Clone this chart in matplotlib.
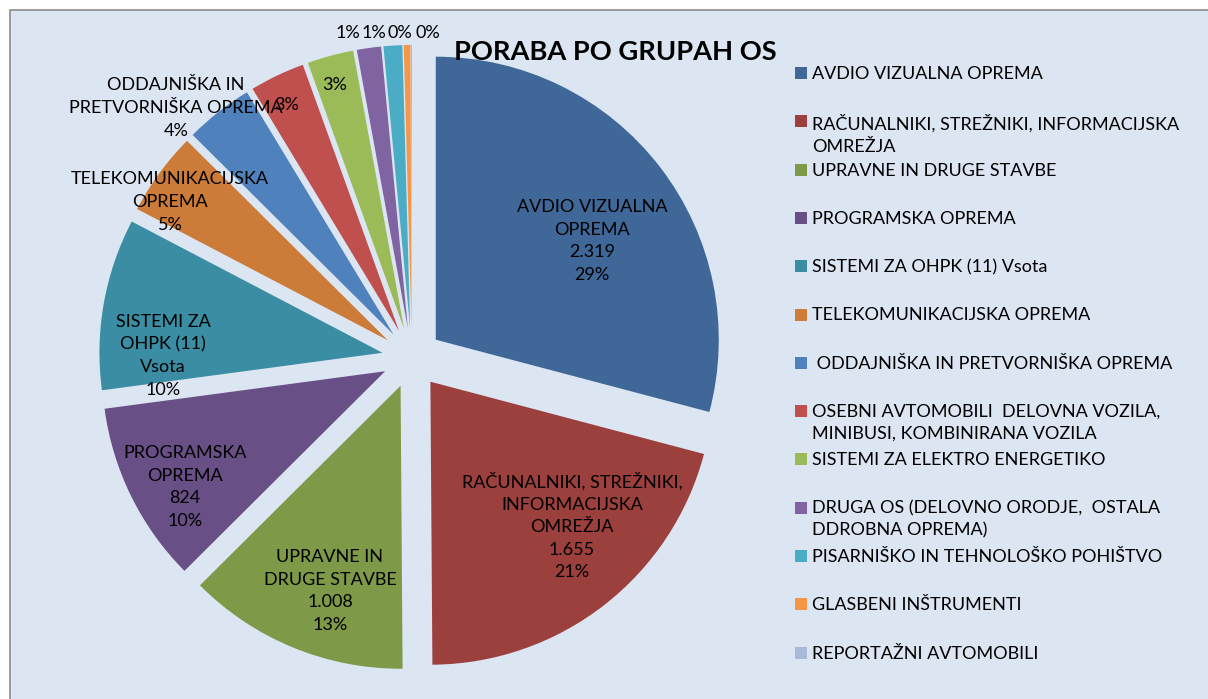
import matplotlib.pyplot as plt
from matplotlib.patches import Rectangle

plt.rcParams['font.family'] = ['Lato', 'DejaVu Sans']

# data (order = clockwise from 12 o'clock)
names = ["AVDIO VIZUALNA OPREMA",
         "RAČUNALNIKI, STREŽNIKI, INFORMACIJSKA\nOMREŽJA",
         "UPRAVNE IN DRUGE STAVBE",
         "PROGRAMSKA OPREMA",
         "SISTEMI ZA OHPK (11) Vsota",
         "TELEKOMUNIKACIJSKA OPREMA",
         " ODDAJNIŠKA IN PRETVORNIŠKA OPREMA",
         "OSEBNI AVTOMOBILI  DELOVNA VOZILA,\nMINIBUSI, KOMBINIRANA VOZILA",
         "SISTEMI ZA ELEKTRO ENERGETIKO",
         "DRUGA OS (DELOVNO ORODJE,  OSTALA\nDDROBNA OPREMA)",
         "PISARNIŠKO IN TEHNOLOŠKO POHIŠTVO",
         "GLASBENI INŠTRUMENTI",
         "REPORTAŽNI AVTOMOBILI"]
values = [2319, 1655, 1008, 824, 780, 380, 310, 250, 210, 110, 85, 30, 5]
label_names = ["AVDIO VIZUALNA\nOPREMA",
               "RAČUNALNIKI, STREŽNIKI,\nINFORMACIJSKA\nOMREŽJA",
               "UPRAVNE IN\nDRUGE STAVBE",
               "PROGRAMSKA\nOPREMA",
               "SISTEMI ZA\nOHPK (11)\nVsota",
               "TELEKOMUNIKACIJSKA\nOPREMA",
               "ODDAJNIŠKA IN\nPRETVORNIŠKA OPREMA",
               "", "", "", "", "", ""]
show_value = [True, True, True, True, False, False, False,
              False, False, False, False, False, False]
colors = ["#3F6898", "#9C403D", "#7E9A48", "#684F86", "#3B8DA3", "#CC7B38",
          "#4F81BD", "#C0504D", "#9BBB59", "#8064A2", "#4BACC6", "#F79646",
          "#A9BAD8"]

# layout (pixels, y down)
label_xy = [(592, 241), (572, 526), (330, 591), (185, 487), (163, 356),
            (170, 202), (176, 108), (287, 105), (335, 85),
            (348, 33), (374, 33), (400, 33), (428, 33)]

fig = plt.figure(figsize=(12.08, 6.99), dpi=100)
ax = fig.add_axes([0, 0, 1, 1])

ax.add_patch(Rectangle((10, 10), 1400, 800, facecolor="#DCE6F2",
                       edgecolor="#8C8C8C", linewidth=1.2, zorder=0))

# y axis is flipped, so counterclock=True looks clockwise on screen
ax.pie(values, colors=colors, startangle=-90, counterclock=True,
       radius=283, center=(412, 358), explode=[30] * len(values),
       wedgeprops=dict(linewidth=0))
ax.set_xlim(0, 1208)
ax.set_ylim(699, 0)
ax.set_aspect('equal')
ax.axis('off')

total = sum(values)
for i in range(len(values)):
    pct = "%d%%" % round(values[i] / total * 100)
    parts = []
    if label_names[i]:
        parts.append(label_names[i])
    if show_value[i]:
        parts.append(f"{values[i]:,}".replace(",", "."))
    parts.append(pct)
    x, y = label_xy[i]
    ax.text(x, y, "\n".join(parts), ha='center', va='center', fontsize=13,
            linespacing=1.5, color='black', zorder=5)

ax.text(615, 52, "PORABA PO GRUPAH OS", ha='center', va='center',
        fontsize=19.6, fontweight='bold', zorder=5)

# legend drawn by hand, like excel
for i in range(len(names)):
    y = 73 + 48.3 * i
    ax.add_patch(Rectangle((795, y - 6), 12, 12, facecolor=colors[i],
                           edgecolor='none', zorder=5))
    ax.text(812, y - 7, names[i], ha='left', va='top', fontsize=13,
            linespacing=1.45, zorder=5)

fig.savefig("out.png", dpi=100)
